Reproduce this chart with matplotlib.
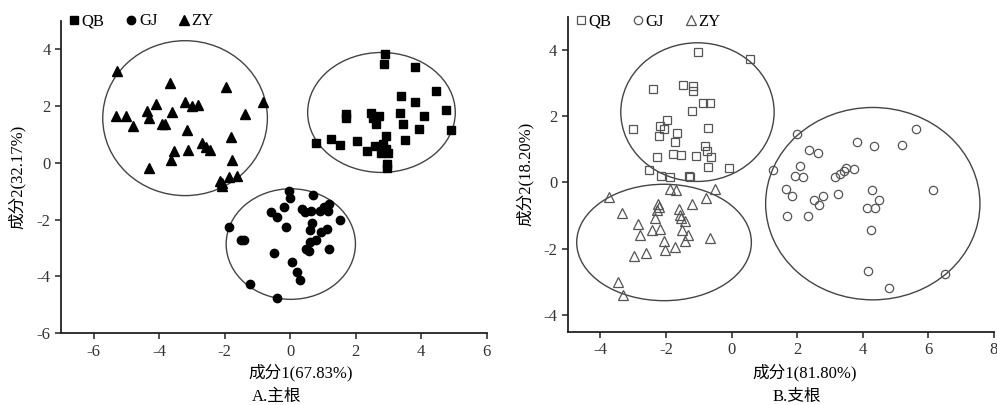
import numpy as np
import matplotlib
matplotlib.use('Agg')
import matplotlib.pyplot as plt
from matplotlib.patches import Ellipse
from matplotlib.lines import Line2D

plt.rcParams['font.family'] = ['Liberation Serif', 'Noto Sans CJK SC', 'DejaVu Sans']
plt.rcParams['axes.unicode_minus'] = False

# ---- A. main root (filled markers) ----
a_qb_x = [2.91, 2.88, 3.82, 4.46, 3.39, 3.82, 4.77, 4.10, 3.36, 3.46, 3.95, 4.92, 1.70, 1.72, 2.47, 2.52,
          2.70, 2.62, 3.52, 0.79, 1.24, 1.51, 2.03, 2.34, 2.60, 2.93, 2.83, 2.93, 2.98, 2.78, 2.95, 2.95]
a_qb_y = [3.83, 3.48, 3.37, 2.54, 2.35, 2.15, 1.84, 1.65, 1.76, 1.38, 1.18, 1.14, 1.70, 1.56, 1.76, 1.56,
          1.65, 1.35, 0.79, 0.71, 0.83, 0.63, 0.77, 0.42, 0.60, 0.95, 0.65, 0.48, 0.36, 0.36, -0.05, -0.19]
a_gj_x = [-0.02, 0.00, 0.70, -0.57, -0.41, -0.20, 0.36, 0.45, 0.63, 0.92, 1.02, 1.19, 1.17, 1.53, -0.13,
          -1.86, 0.66, 0.61, 1.12, 0.94, 0.79, 0.61, -1.51, -1.40, 0.48, 0.59, 1.19, -0.49, 0.05, 0.22,
          0.30, -1.24, -0.39]
a_gj_y = [-1.00, -1.24, -1.12, -1.73, -1.91, -1.56, -1.62, -1.74, -1.70, -1.70, -1.56, -1.45, -1.68, -2.03,
          -2.26, -2.26, -2.12, -2.38, -2.32, -2.44, -2.71, -2.79, -2.73, -2.71, -3.02, -3.10, -3.02, -3.17,
          -3.49, -3.84, -4.11, -4.27, -4.75]
a_zy_x = [-5.29, -3.67, -1.95, -0.84, -4.09, -3.21, -2.99, -2.81, -4.37, -4.30, -3.60, -5.31, -5.00, -4.80,
          -3.93, -3.83, -1.38, -3.16, -1.82, -2.68, -2.58, -2.45, -3.11, -3.55, -3.65, -1.77, -4.32, -2.14,
          -2.09, -1.87, -1.61, -2.09]
a_zy_y = [3.22, 2.81, 2.66, 2.15, 2.08, 2.15, 2.00, 2.05, 1.82, 1.59, 1.79, 1.65, 1.65, 1.30, 1.35, 1.38,
          1.73, 1.14, 0.89, 0.68, 0.57, 0.46, 0.44, 0.40, 0.09, 0.09, -0.19, -0.63, -0.72, -0.51, -0.46, -0.80]
# ellipses: centre x, centre y, width, height  (QB, GJ, ZY)
a_ell_cx = [2.79, 0.02, -3.21]
a_ell_cy = [1.77, -2.86, 1.57]
a_ell_w = [4.51, 3.95, 5.03]
a_ell_h = [4.22, 3.89, 5.45]

# ---- B. branch root (open markers) ----
b_qb_x = [-1.03, 0.56, -2.40, -1.49, -1.17, -1.17, -0.87, -0.66, -1.21, -3.02, -1.97, -2.18, -2.05, -2.20,
          -1.66, -1.74, -0.72, -0.80, -0.74, -0.64, -2.26, -1.79, -1.53, -1.08, -2.51, -0.72, -0.08, -2.15,
          -1.89, -1.31, -1.28]
b_qb_y = [3.93, 3.73, 2.82, 2.95, 2.90, 2.76, 2.39, 2.39, 2.16, 1.62, 1.88, 1.70, 1.60, 1.40, 1.48, 1.22,
          1.65, 1.09, 0.94, 0.76, 0.77, 0.87, 0.84, 0.81, 0.38, 0.46, 0.44, 0.18, 0.16, 0.18, 0.15]
b_gj_x = [1.99, 3.82, 4.36, 5.21, 5.64, 2.37, 2.63, 2.09, 1.28, 1.94, 2.17, 3.17, 3.31, 3.44, 3.49, 3.73,
          1.65, 1.83, 2.78, 2.52, 2.66, 3.24, 4.28, 4.49, 4.14, 4.38, 1.69, 2.32, 4.26, 6.15, 4.16, 4.79, 6.51]
b_gj_y = [1.45, 1.22, 1.09, 1.14, 1.60, 0.97, 0.89, 0.51, 0.38, 0.18, 0.15, 0.16, 0.26, 0.36, 0.44, 0.41,
          -0.19, -0.41, -0.41, -0.53, -0.68, -0.34, -0.24, -0.53, -0.76, -0.78, -1.01, -1.01, -1.42, -0.24,
          -2.67, -3.18, -2.75]
b_zy_x = [-3.73, -3.35, -0.49, -1.89, -1.69, -0.77, -1.21, -2.23, -2.21, -2.28, -1.61, -1.58, -2.33, -1.53,
          -1.41, -2.84, -2.43, -2.18, -2.79, -1.51, -1.34, -0.66, -2.07, -1.41, -2.02, -1.74, -2.61, -2.99,
          -3.48, -3.30]
b_zy_y = [-0.43, -0.93, -0.20, -0.20, -0.24, -0.48, -0.65, -0.65, -0.75, -0.83, -0.81, -0.98, -1.08, -1.08,
          -1.15, -1.26, -1.42, -1.39, -1.59, -1.44, -1.59, -1.69, -1.76, -1.76, -2.05, -1.94, -2.13, -2.23,
          -3.01, -3.38]
b_ell_cx = [-1.04, 4.31, -2.06]
b_ell_cy = [2.12, -0.64, -1.81]
b_ell_w = [4.68, 6.54, 5.33]
b_ell_h = [4.18, 5.80, 3.51]

groups = ['QB', 'GJ', 'ZY']
markers = ['s', 'o', '^']
fs = 12

fig = plt.figure(figsize=(9.97, 4.05), dpi=100)
axA = fig.add_axes([0.0612, 0.177, 0.4268, 0.772])
axB = fig.add_axes([0.5694, 0.181, 0.4273, 0.778])


def style(ax, xlim, ylim, xt, yt):
    ax.set_xlim(*xlim)
    ax.set_ylim(*ylim)
    ax.set_xticks(xt)
    ax.set_yticks(yt)
    for s in ['top', 'right']:
        ax.spines[s].set_visible(False)
    for s in ['left', 'bottom']:
        ax.spines[s].set_linewidth(1.3)
        ax.spines[s].set_color('#222222')
    ax.tick_params(direction='out', length=4, width=1.1, labelsize=fs, colors='#222222',
                   labelcolor='#333333')


# panel A
a_data = [(a_qb_x, a_qb_y, 5.2), (a_gj_x, a_gj_y, 6.0), (a_zy_x, a_zy_y, 6.5)]
for (xs, ys, ms), m in zip(a_data, markers):
    axA.plot(xs, ys, m, color='black', ms=ms, ls='none')
for cx, cy, w, h in zip(a_ell_cx, a_ell_cy, a_ell_w, a_ell_h):
    axA.add_patch(Ellipse((cx, cy), w, h, fill=False, ec='#444444', lw=1.0))
style(axA, (-7, 6), (-6, 5), [-6, -4, -2, 0, 2, 4, 6], [-6, -4, -2, 0, 2, 4])
hA = [Line2D([], [], marker=m, color='black', ls='none', ms=ms) for m, ms in zip(markers, [5.2, 6.0, 6.5])]
axA.legend(hA, groups, loc='upper left', bbox_to_anchor=(0.0, 1.05), ncol=3, frameon=False,
           fontsize=fs, handlelength=0.6, handletextpad=0.15, columnspacing=1.3, borderpad=0)
axA.set_ylabel('成分2(32.17%)', fontsize=fs)
axA.yaxis.set_label_coords(-0.082, 0.5)
fig.text(0.302, 0.079, '成分1(67.83%)', ha='center', va='center', fontsize=fs)
fig.text(0.277, 0.02, 'A.主根', ha='center', va='center', fontsize=fs)

# panel B
b_data = [(b_qb_x, b_qb_y, 6.0), (b_gj_x, b_gj_y, 6.0), (b_zy_x, b_zy_y, 7.0)]
for (xs, ys, ms), m in zip(b_data, markers):
    axB.plot(xs, ys, m, mfc='none', mec='#555555', mew=0.9, ms=ms, ls='none')
for cx, cy, w, h in zip(b_ell_cx, b_ell_cy, b_ell_w, b_ell_h):
    axB.add_patch(Ellipse((cx, cy), w, h, fill=False, ec='#444444', lw=1.0))
style(axB, (-5, 8), (-4.5, 5), [-4, -2, 0, 2, 4, 6, 8], [-4, -2, 0, 2, 4])
hB = [Line2D([], [], marker=m, mfc='none', mec='#555555', mew=0.9, ls='none', ms=ms)
      for m, ms in zip(markers, [6.0, 6.0, 7.0])]
axB.legend(hB, groups, loc='upper left', bbox_to_anchor=(0.0, 1.035), ncol=3, frameon=False,
           fontsize=fs, handlelength=0.6, handletextpad=0.15, columnspacing=1.3, borderpad=0)
axB.set_ylabel('成分2(18.20%)', fontsize=fs)
axB.yaxis.set_label_coords(-0.079, 0.5)
fig.text(0.807, 0.079, '成分1(81.80%)', ha='center', va='center', fontsize=fs)
fig.text(0.799, 0.02, 'B.支根', ha='center', va='center', fontsize=fs)

fig.savefig('out.png', dpi=100)
